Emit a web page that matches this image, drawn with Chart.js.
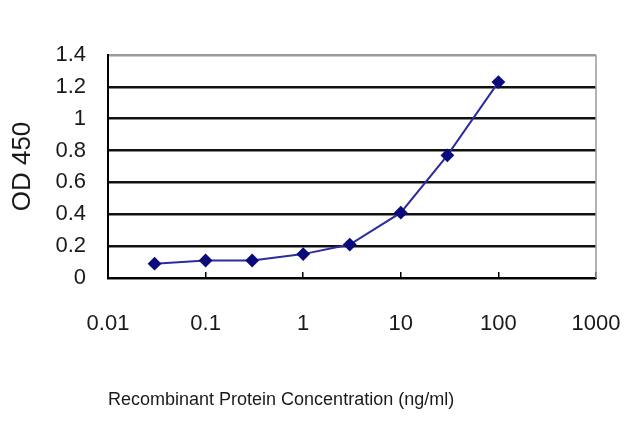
<!DOCTYPE html>
<html>
<head>
<meta charset="utf-8">
<script src="https://cdn.jsdelivr.net/npm/chart.js@4/dist/chart.umd.min.js"></script>
<style>
    html, body { margin: 0; padding: 0; background: #fff; }
    #wrap { width: 640px; height: 427px; }
</style>
</head>
<body>
<div id="wrap"><canvas id="odChart" width="640" height="427"></canvas></div>
<script>
// valores
const concentracoes = [0.03, 0.1, 0.3, 1, 3, 10, 30, 100];
const od450 = [0.09, 0.11, 0.11, 0.15, 0.21, 0.41, 0.77, 1.23];
const xTicks = [0.01, 0.1, 1, 10, 100, 1000];
const xTickLabels = ['0.01', '0.1', '1', '10', '100', '1000'];
const yTicks = [0, 0.2, 0.4, 0.6, 0.8, 1, 1.2, 1.4];
const yTickLabels = ['0', '0.2', '0.4', '0.6', '0.8', '1', '1.2', '1.4'];

const fonte = "'Liberation Sans', Arial, sans-serif";

// borda direita cinza da área do gráfico
const bordaDireita = {
    id: 'bordaDireita',
    beforeDatasetsDraw(chart) {
        const { ctx, chartArea } = chart;
        ctx.save();
        ctx.strokeStyle = '#9a9a9a';
        ctx.lineWidth = 1.5;
        ctx.beginPath();
        ctx.moveTo(chartArea.right, chartArea.top);
        ctx.lineTo(chartArea.right, chartArea.bottom);
        ctx.stroke();
        ctx.restore();
    }
};

const ctx = document.getElementById('odChart').getContext('2d');
const chart = new Chart(ctx, {
    type: 'line',
    data: {
        datasets: [{
            data: concentracoes.map((c, i) => ({ x: c, y: od450[i] })),
            borderColor: '#2c2c9e',
            borderWidth: 2,
            pointStyle: 'rectRot',
            pointRadius: 5.5,
            pointBackgroundColor: '#0a0a7c',
            pointBorderColor: '#0a0a7c',
            tension: 0
        }]
    },
    options: {
        responsive: false,
        animation: false,
        devicePixelRatio: 1,
        layout: { padding: { top: 55, right: 44, left: 0, bottom: 0 } },
        plugins: { legend: { display: false }, tooltip: { enabled: false } },
        scales: {
            x: {
                type: 'logarithmic',
                min: 0.01,
                max: 1000,
                afterBuildTicks: (s) => { s.ticks = xTicks.map(v => ({ value: v })); },
                afterFit: (s) => { s.height = 149; s.paddingLeft = 0; s.paddingRight = 0; },
                grid: { drawOnChartArea: false, drawTicks: true, tickLength: -6, color: '#000', lineWidth: 1.5 },
                border: { color: '#000', width: 2 },
                ticks: {
                    color: '#1a1a1a',
                    font: { family: fonte, size: 22 },
                    padding: 39,
                    maxRotation: 0,
                    autoSkip: false,
                    callback: (v) => xTickLabels[xTicks.indexOf(v)] ?? ''
                },
                title: {
                    display: true,
                    text: 'Recombinant Protein Concentration (ng/ml)',
                    align: 'start',
                    color: '#1a1a1a',
                    font: { family: fonte, size: 18 },
                    padding: { top: 0, bottom: 16 }
                }
            },
            y: {
                min: 0,
                max: 1.4,
                afterBuildTicks: (s) => { s.ticks = yTicks.map(v => ({ value: v })); },
                afterFit: (s) => { s.width = 108; },
                grid: {
                    drawTicks: false,
                    color: (c) => c.tick && c.tick.value === 1.4 ? '#9a9a9a' : '#111',
                    lineWidth: 2.5
                },
                border: { color: '#000', width: 2 },
                ticks: {
                    color: '#1a1a1a',
                    font: { family: fonte, size: 22 },
                    padding: 22,
                    callback: (v) => yTickLabels[yTicks.indexOf(v)] ?? ''
                },
                title: {
                    display: true,
                    text: 'OD 450',
                    color: '#1a1a1a',
                    font: { family: fonte, size: 26 },
                    padding: { top: 7, bottom: 0 }
                }
            }
        }
    },
    plugins: [bordaDireita]
});
</script>
</body>
</html>
